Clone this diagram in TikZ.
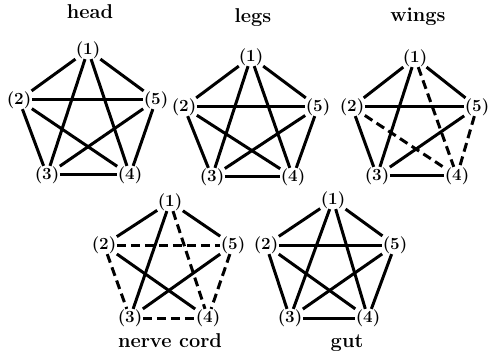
\documentclass[tikz,border=0pt]{standalone}
\begin{document}
\begin{tikzpicture}[x=1pt,y=-1pt,
  lab/.style={font=\fontsize{17}{20}\selectfont\bfseries, inner sep=0.6pt, outer sep=0pt},
  ttl/.style={font=\fontsize{20}{24}\selectfont\bfseries, anchor=base, inner sep=0pt},
  edg/.style={line width=3pt},
  dsh/.style={line width=3pt, dash pattern=on 9pt off 5pt}]
\useasboundingbox (0,0) rectangle (492,355);
% head
\node[ttl] (th) at (90,19) {head};
\node[lab] (h1) at (88,50) {(1)};
\node[lab] (h2) at (19,100) {(2)};
\node[lab] (h5) at (156,100) {(5)};
\node[lab] (h3) at (47,175) {(3)};
\node[lab] (h4) at (130,175) {(4)};
% legs
\node[ttl] (tl) at (253,23) {legs};
\node[lab] (l1) at (251,57) {(1)};
\node[lab] (l2) at (184,107) {(2)};
\node[lab] (l5) at (318,107) {(5)};
\node[lab] (l3) at (212,177) {(3)};
\node[lab] (l4) at (293,177) {(4)};
% wings
\node[ttl] (tw) at (418,22) {wings};
\node[lab] (w1) at (415,58) {(1)};
\node[lab] (w2) at (352,107) {(2)};
\node[lab] (w5) at (477,107) {(5)};
\node[lab] (w3) at (377,176) {(3)};
\node[lab] (w4) at (457,176) {(4)};
% nerve cord
\node[ttl] (tn) at (170,347) {nerve cord};
\node[lab] (n1) at (170,202) {(1)};
\node[lab] (n2) at (104,245) {(2)};
\node[lab] (n5) at (233,245) {(5)};
\node[lab] (n3) at (130,318) {(3)};
\node[lab] (n4) at (208,318) {(4)};
% gut
\node[ttl] (tg) at (347,347) {gut};
\node[lab] (g1) at (333,200) {(1)};
\node[lab] (g2) at (266,245) {(2)};
\node[lab] (g5) at (395,245) {(5)};
\node[lab] (g3) at (290,318) {(3)};
\node[lab] (g4) at (368,318) {(4)};
% edges
\foreach \p in {h,l,g}{
  \foreach \a/\b in {1/2,1/5,1/3,1/4,2/5,2/3,2/4,5/3,5/4,3/4}{
    \draw[edg] (\p\a) -- (\p\b);
  }
}
\foreach \a/\b/\s in {1/2/edg,1/5/edg,1/3/edg,1/4/dsh,2/5/edg,2/3/edg,2/4/dsh,5/3/edg,5/4/dsh,3/4/edg}{
  \draw[\s] (w\a) -- (w\b);
}
\foreach \a/\b/\s in {1/2/edg,1/5/edg,1/3/edg,1/4/dsh,2/5/dsh,2/3/dsh,2/4/edg,5/3/edg,5/4/dsh,3/4/dsh}{
  \draw[\s] (n\a) -- (n\b);
}
\end{tikzpicture}
\end{document}
